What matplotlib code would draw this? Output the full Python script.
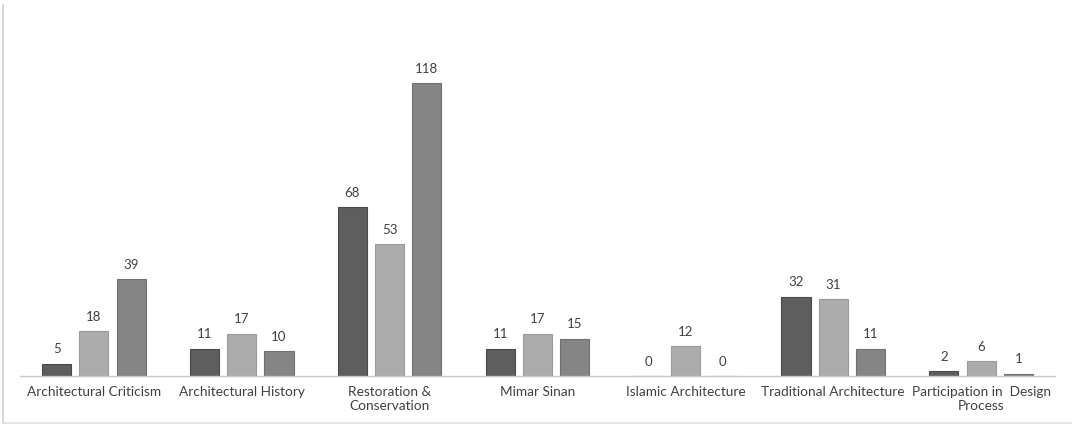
import numpy as np
import matplotlib
matplotlib.use("Agg")
import matplotlib.pyplot as plt
from matplotlib.lines import Line2D

categories = ["Architectural Criticism", "Architectural History", "Restoration &\nConservation",
              "Mimar Sinan", "Islamic Architecture", "Traditional Architecture",
              "Participation in  Design\nProcess"]
serie1 = [5, 11, 68, 11, 0, 32, 2]
serie2 = [18, 17, 53, 17, 12, 31, 6]
serie3 = [39, 10, 118, 15, 0, 11, 1]

colores = ["#5e5e5e", "#acacac", "#858585"]
bordes = ["#4a4a4a", "#9a9a9a", "#717171"]

plt.rcParams['font.family'] = ['Lato', 'DejaVu Sans']

fig = plt.figure(figsize=(10.72, 4.33), dpi=100)
ax = fig.add_axes([20 / 1072, 57 / 433, 1035 / 1072, 366 / 433])

x = np.arange(len(categories))
ancho = 0.197
sep = 0.252
for k, datos in enumerate([serie1, serie2, serie3]):
    pos = x + (k - 1) * sep
    barras = ax.bar(pos, datos, width=ancho, color=colores[k], edgecolor=bordes[k], linewidth=0.8)
    for p, v in zip(pos, datos):
        ax.text(p, v + 3.4, str(v), ha='center', va='bottom', fontsize=9.5, color='#404040')

ax.set_xlim(-0.5, len(categories) - 0.5)
ax.set_ylim(0, 147.4)
ax.set_xticks(x)
ax.set_xticklabels(categories, fontsize=9.8, color='#404040', linespacing=1.2)
ax.tick_params(axis='x', length=0, pad=7)
ax.set_yticks([])
for lado in ['top', 'right', 'left']:
    ax.spines[lado].set_visible(False)
ax.spines['bottom'].set_color('#c8c8c8')
ax.spines['bottom'].set_linewidth(1)

# marco exterior
fig.add_artist(Line2D([2.5 / 1072, 2.5 / 1072], [10 / 433, 428 / 433], color='#d0d0d0', lw=1.2))
fig.add_artist(Line2D([2.5 / 1072, 1072 / 1072], [10 / 433, 10 / 433], color='#e0e0e0', lw=1.2))

fig.savefig("out.png", dpi=100, facecolor='white')
